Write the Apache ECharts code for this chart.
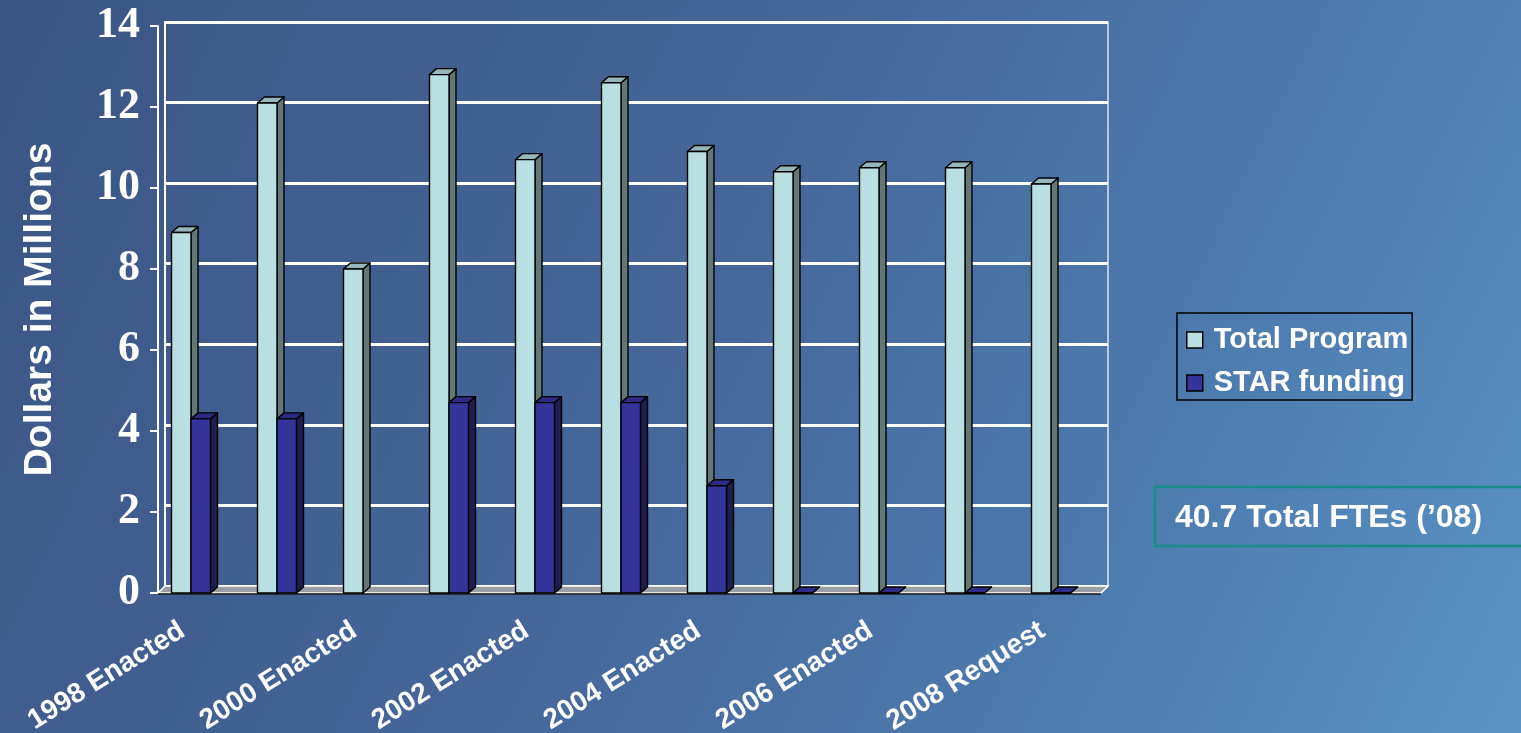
<!DOCTYPE html>
<html>
<head>
<meta charset="utf-8">
<script src="https://cdn.jsdelivr.net/npm/echarts@6/dist/echarts.min.js"></script>
<style>
html,body{margin:0;padding:0;width:1521px;height:733px;overflow:hidden;}
#chart{width:1521px;height:733px;}
</style>
</head>
<body>
<div id="chart"></div>
<script>
// ---- data ----
var categories = ['1998 Enacted','1999 Enacted','2000 Enacted','2001 Enacted','2002 Enacted','2003 Enacted','2004 Enacted','2005 Enacted','2006 Enacted','2007 Enacted','2008 Request'];
var totalProgram = [8.9, 12.1, 8.0, 12.8, 10.7, 12.6, 10.9, 10.4, 10.5, 10.5, 10.1];
var starFunding  = [4.3, 4.3, null, 4.7, 4.7, 4.7, 2.65, 0, 0, 0, 0];
var seriesNames = ['Total Program', 'STAR funding'];
var yTicks = [0, 2, 4, 6, 8, 10, 12, 14];
var noteText = '40.7 Total FTEs (\u201908)';
var yTitle = 'Dollars in Millions';

var chart = echarts.init(document.getElementById('chart'));

var DX = 7, DY = 6, BW = 19.5;

function makeRender(side, cFront, cTop, cSide) {
  return function (params, api) {
    var v = api.value(1);
    if (v === null || v === undefined || isNaN(v)) return;
    var idx = api.value(0);
    var top = api.coord([idx, v]);
    var base = api.coord([idx, 0]);
    var c = top[0];
    var x0 = side === 0 ? c - BW : c;
    var x1 = x0 + BW;
    var yt = top[1], yb = base[1];
    var stroke = {stroke: '#000', lineWidth: 1.4, lineJoin: 'round'};
    return {
      type: 'group',
      children: [
        {type: 'polygon', shape: {points: [[x1, yt], [x1 + DX, yt - DY], [x1 + DX, yb - DY], [x1, yb]]},
         style: Object.assign({fill: cSide}, stroke)},
        {type: 'polygon', shape: {points: [[x0, yt], [x1, yt], [x1 + DX, yt - DY], [x0 + DX, yt - DY]]},
         style: Object.assign({fill: cTop}, stroke)},
        {type: 'rect', shape: {x: x0, y: yt, width: BW, height: yb - yt},
         style: Object.assign({fill: cFront}, stroke)}
      ]
    };
  };
}

var W = {left: 165, top: 22, right: 1521 - 1108, bottom: 733 - 586};
var F = {left: 148, top: 26, right: 1521 - 1094, bottom: 733 - 593};

var option = {
  backgroundColor: new echarts.graphic.LinearGradient(0, 0, 1, 1, [
    {offset: 0, color: '#3a5584'},
    {offset: 0.45, color: '#45679a'},
    {offset: 0.75, color: '#4d7caf'},
    {offset: 1, color: '#5b93c5'}
  ]),
  animation: false,
  grid: [
    {left: W.left, top: W.top, right: W.right, bottom: W.bottom, outerBoundsMode: 'none', containLabel: false,
     show: true, borderColor: '#ffffff', borderWidth: 1.2, backgroundColor: 'transparent'},
    {left: F.left, top: F.top, right: F.right, bottom: F.bottom, outerBoundsMode: 'none', containLabel: false}
  ],
  xAxis: [
    {gridIndex: 0, type: 'category', data: categories, show: false},
    {gridIndex: 1, type: 'category', data: categories,
     axisLine: {show: false}, axisTick: {show: false},
     axisLabel: {interval: 1, rotate: 32, margin: 30, padding: [0, 10, 0, 0], color: '#ffffff',
       fontFamily: 'Liberation Sans, Arial, sans-serif', fontWeight: 'bold', fontSize: 28}}
  ],
  yAxis: [
    {gridIndex: 0, type: 'value', min: 0, max: 14, interval: 2,
     axisLine: {show: true, lineStyle: {color: '#ffffff', width: 2}},
     axisTick: {show: false}, axisLabel: {show: false},
     splitLine: {show: true, lineStyle: {color: '#ffffff', width: 3}}},
    {gridIndex: 1, type: 'value', min: 0, max: 14, interval: 2, offset: -10,
     name: yTitle, nameLocation: 'middle', nameGap: 98, nameRotate: 90,
     nameTextStyle: {color: '#ffffff', fontFamily: 'Liberation Sans, Arial, sans-serif', fontWeight: 'bold', fontSize: 39},
     axisLine: {show: true, lineStyle: {color: '#ffffff', width: 2}},
     axisTick: {show: true, length: 8, lineStyle: {color: '#ffffff', width: 2}},
     axisLabel: {margin: 18, color: '#ffffff', fontFamily: 'Liberation Serif, Times New Roman, serif', fontWeight: 'bold', fontSize: 44,
       formatter: function (v) { return yTicks.indexOf(v) >= 0 ? String(v) : ''; }},
     splitLine: {show: false}}
  ],
  legend: {
    orient: 'vertical', left: 1177, top: 313,
    data: seriesNames,
    icon: 'rect', itemWidth: 16, itemHeight: 16, itemGap: 13,
    padding: [12, 4, 2, 9],
    borderColor: '#000000', borderWidth: 1.5,
    itemStyle: {borderColor: '#000', borderWidth: 1.5},
    textStyle: {color: '#ffffff', fontFamily: 'Liberation Sans, Arial, sans-serif', fontWeight: 'bold', fontSize: 29, lineHeight: 30, padding: [0, 0, 0, 6]},
    selectedMode: false
  },
  graphic: [
    {type: 'polygon', z: 1, silent: true,
     shape: {points: [[W.left, 586], [1108, 586], [1101, 593], [158, 593]]},
     style: {fill: '#9a9ea6', stroke: '#ffffff', lineWidth: 1.5}},
    {type: 'line', z: 1, silent: true, shape: {x1: 158, y1: 594, x2: 1101, y2: 594}, style: {stroke: '#1a1a1a', lineWidth: 1.5}},
    {type: 'rect', z: 1, silent: true, shape: {x: 1155, y: 487, width: 420, height: 59},
     style: {fill: 'transparent', stroke: '#1a8c88', lineWidth: 2.5}},
    {type: 'text', z: 2, silent: true, x: 1175, y: 518,
     style: {text: noteText, fill: '#ffffff', font: 'bold 32px "Liberation Sans", Arial, sans-serif', verticalAlign: 'middle'}}
  ],
  series: [
    {name: seriesNames[0], type: 'custom', xAxisIndex: 1, yAxisIndex: 1, z: 3,
     itemStyle: {color: '#b8e0e3'},
     renderItem: makeRender(0, '#b8e0e3', '#93b7ba', '#617876'),
     encode: {x: 0, y: 1},
     data: totalProgram.map(function (v, i) { return [i, v]; })},
    {name: seriesNames[1], type: 'custom', xAxisIndex: 1, yAxisIndex: 1, z: 4,
     itemStyle: {color: '#34349a'},
     renderItem: makeRender(1, '#34349a', '#2b2b84', '#1e1e52'),
     encode: {x: 0, y: 1},
     data: starFunding.map(function (v, i) { return [i, v]; })}
  ]
};
chart.setOption(option);
</script>
</body>
</html>
